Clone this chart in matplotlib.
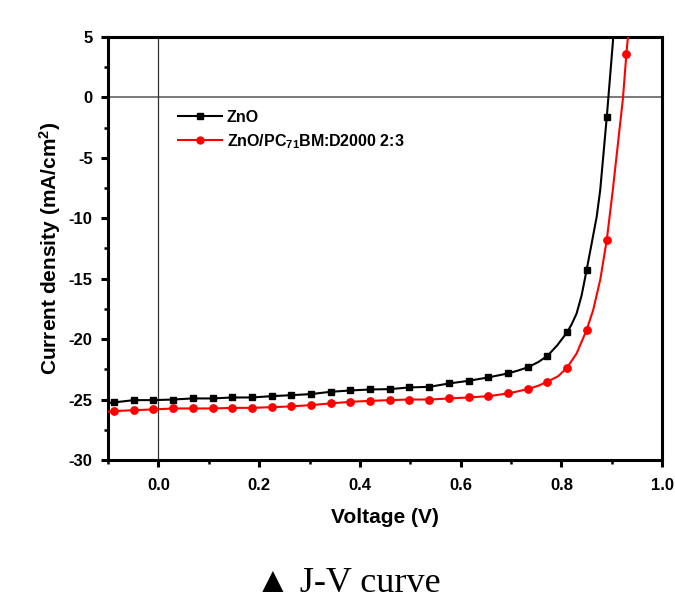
import numpy as np
import matplotlib
matplotlib.use("Agg")
import matplotlib.pyplot as plt
from matplotlib.ticker import MultipleLocator

plt.rcParams['font.family'] = ['Liberation Sans', 'DejaVu Sans']
plt.rcParams['axes.unicode_minus'] = False
plt.rcParams['mathtext.fontset'] = 'custom'
plt.rcParams['mathtext.rm'] = 'Liberation Sans:bold'
plt.rcParams['mathtext.it'] = 'Liberation Sans:bold'
plt.rcParams['mathtext.bf'] = 'Liberation Sans:bold'

# marker positions (V) shared by both curves
v_mark = [-0.088, -0.049, -0.010, 0.029, 0.068, 0.108, 0.147, 0.186, 0.225,
          0.264, 0.303, 0.342, 0.381, 0.420, 0.459, 0.498, 0.538, 0.577,
          0.616, 0.655, 0.694, 0.733, 0.772, 0.811, 0.850, 0.890, 0.929]

# ZnO (black squares), last marker is off the top of the axes
j_zno_mark = [-25.24, -25.05, -25.05, -25.00, -24.91, -24.91, -24.83, -24.83,
              -24.72, -24.64, -24.55, -24.36, -24.25, -24.17, -24.14, -24.00,
              -23.95, -23.67, -23.45, -23.17, -22.84, -22.34, -21.40, -19.45,
              -14.30, -1.65]
# ZnO/PC71BM:D2000 (red circles)
j_pcbm_mark = [-25.96, -25.88, -25.82, -25.74, -25.74, -25.74, -25.69, -25.69,
               -25.63, -25.57, -25.46, -25.32, -25.19, -25.11, -25.05, -25.00,
               -25.00, -24.91, -24.83, -24.72, -24.50, -24.14, -23.53, -22.37,
               -19.25, -11.80, 3.60]

# extra points on the lines between markers (knee region + ends)
v_zno_extra = [-0.100, 0.714, 0.754, 0.792, 0.820, 0.830, 0.840, 0.870, 0.877, 0.903]
j_zno_extra = [-25.28, -22.60, -21.90, -20.50, -18.80, -17.90, -16.40, -9.88, -7.67, 5.00]
v_pcbm_extra = [-0.100, 0.754, 0.794, 0.830, 0.863, 0.877, 0.902, 0.922, 0.932]
j_pcbm_extra = [-26.00, -23.86, -23.06, -21.20, -17.60, -15.10, -7.67, -0.13, 5.00]


def merged(vm, jm, ve, je):
    v = np.concatenate([vm, ve])
    j = np.concatenate([jm, je])
    order = np.argsort(v)
    return v[order], j[order]


v_zno_line, j_zno_line = merged(v_mark[:len(j_zno_mark)], j_zno_mark, v_zno_extra, j_zno_extra)
v_pcbm_line, j_pcbm_line = merged(v_mark, j_pcbm_mark, v_pcbm_extra, j_pcbm_extra)

fig = plt.figure(figsize=(6.75, 6.06), dpi=100)
ax = fig.add_axes([0.16, 0.241, 0.821, 0.698])

ax.axhline(0, color='#555555', lw=1.1, zorder=1)
ax.axvline(0, color='#333333', lw=0.9, zorder=1)

ax.plot(v_zno_line, j_zno_line, color='black', lw=1.5, zorder=3)
ax.plot(v_mark[:len(j_zno_mark)], j_zno_mark, ls='none', marker='s', ms=4.8,
        color='black', zorder=4)
ax.plot(v_pcbm_line, j_pcbm_line, color='red', lw=1.5, zorder=3)
ax.plot(v_mark, j_pcbm_mark, ls='none', marker='o', ms=5.3, color='red', zorder=4)

# legend proxies
h1, = ax.plot([], [], color='black', lw=1.5, marker='s', ms=4.5)
h2, = ax.plot([], [], color='red', lw=1.5, marker='o', ms=5)
leg = ax.legend([h1, h2], ['ZnO', 'ZnO/PC$_{71}$BM:D2000 2:3'],
                loc='upper left', bbox_to_anchor=(0.126, 0.828), frameon=False,
                borderpad=0, borderaxespad=0, handlelength=2.75,
                handletextpad=0.3, labelspacing=0.45, numpoints=1,
                prop={'size': 11.5, 'weight': 'bold'})

ax.set_xlim(-0.1, 1.0)
ax.set_ylim(-30, 5)
ax.xaxis.set_major_locator(MultipleLocator(0.2))
ax.xaxis.set_minor_locator(MultipleLocator(0.1))
ax.yaxis.set_major_locator(MultipleLocator(5))
ax.yaxis.set_minor_locator(MultipleLocator(2.5))
ax.set_xticks(np.arange(0, 1.01, 0.2))
ax.set_xticklabels(['0.0', '0.2', '0.4', '0.6', '0.8', '1.0'])

for s in ax.spines.values():
    s.set_linewidth(2.2)
ax.tick_params(which='major', direction='out', length=5, width=2.2,
               labelsize=12, pad=6, top=False, right=False)
ax.tick_params(axis='x', which='major', pad=8)
ax.tick_params(which='minor', direction='out', length=3, width=1.8,
               top=False, right=False)
for lab in ax.get_xticklabels() + ax.get_yticklabels():
    lab.set_fontweight('bold')

ax.set_xlabel('Voltage (V)', fontsize=15, fontweight='bold', labelpad=11)
ax.set_ylabel('Current density (mA/cm$^{2}$)', fontsize=15, fontweight='bold', labelpad=4)

fig.text(0.5156, 0.0236, '▲ J-V curve', ha='center', va='baseline', fontsize=26,
         family=['Liberation Serif', 'DejaVu Sans'])

fig.savefig('out.png', dpi=100)
